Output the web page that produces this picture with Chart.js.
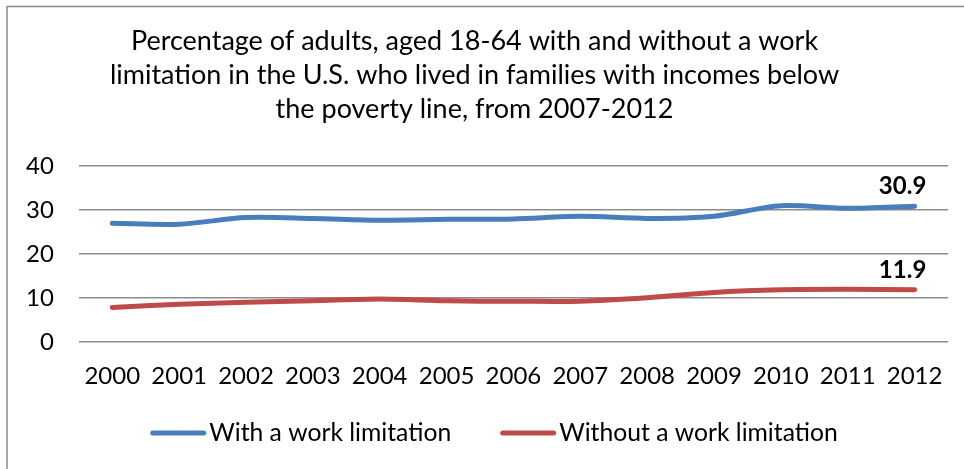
<!DOCTYPE html>
<html>
<head>
<meta charset="utf-8">
<script src="https://cdn.jsdelivr.net/npm/chart.js@4/dist/chart.umd.min.js"></script>
<style>
  html, body { margin: 0; padding: 0; background: #fff; }
  #wrap { width: 964px; height: 469px; position: relative; }
</style>
</head>
<body>
<div id="wrap"><canvas id="c" width="964" height="469"></canvas></div>
<script>
const years = ['2000','2001','2002','2003','2004','2005','2006','2007','2008','2009','2010','2011','2012'];
const withLimitation    = [27.0, 26.8, 28.3, 28.1, 27.7, 27.9, 28.0, 28.6, 28.1, 28.6, 31.0, 30.4, 30.9];
const withoutLimitation = [7.9, 8.6, 9.1, 9.4, 9.8, 9.4, 9.3, 9.3, 10.1, 11.3, 11.9, 12.0, 11.9];
const yTicks = [0, 10, 20, 30, 40];
const titleLines = [
  'Percentage of adults, aged 18-64 with and without a work',
  'limitation in the U.S. who lived in families with incomes below',
  'the poverty line, from 2007-2012'
];

const FONT = 'Lato, "Open Sans", sans-serif';
const BLUE = '#4a7ebb';
const RED = '#be4b48';

// Thin frame along the left and top edges of the canvas
const framePlugin = {
  id: 'frame',
  beforeDraw(chart) {
    const ctx = chart.ctx;
    ctx.save();
    ctx.strokeStyle = '#8a8a8a';
    ctx.lineWidth = 1.5;
    ctx.beginPath();
    ctx.moveTo(7, chart.height);
    ctx.lineTo(7, 6.5);
    ctx.lineTo(chart.width, 6.5);
    ctx.stroke();
    ctx.restore();
  }
};

// Bold value label above the final point of each series
const lastValuePlugin = {
  id: 'lastValue',
  afterDatasetsDraw(chart) {
    const ctx = chart.ctx;
    ctx.save();
    ctx.font = 'bold 24px ' + FONT;
    ctx.fillStyle = '#000';
    ctx.textAlign = 'center';
    ctx.textBaseline = 'bottom';
    chart.data.datasets.forEach((ds, i) => {
      const meta = chart.getDatasetMeta(i);
      const last = ds.data.length - 1;
      const pt = meta.data[last];
      ctx.fillText(ds.data[last].toFixed(1), pt.x - 12, pt.y - 8);
    });
    ctx.restore();
  }
};

// Legend row: short thick line swatch followed closely by the series name
const lineLegendPlugin = {
  id: 'lineLegend',
  afterDraw(chart) {
    const ctx = chart.ctx;
    const swatch = 56, gapText = 3, gapItem = 49;
    ctx.save();
    ctx.font = '24.7px ' + FONT;
    const items = chart.data.datasets.map(ds => ({
      text: ds.label, color: ds.borderColor, w: ctx.measureText(ds.label).width
    }));
    let total = items.reduce((s, it) => s + swatch + gapText + it.w, 0) + gapItem * (items.length - 1);
    let x = 494 - total / 2;
    const y = 433;
    ctx.textBaseline = 'middle';
    ctx.textAlign = 'left';
    items.forEach(it => {
      ctx.strokeStyle = it.color;
      ctx.lineWidth = 5;
      ctx.lineCap = 'round';
      ctx.beginPath();
      ctx.moveTo(x + 2.5, y);
      ctx.lineTo(x + swatch - 2.5, y);
      ctx.stroke();
      ctx.fillStyle = '#000';
      ctx.fillText(it.text, x + swatch + gapText, y);
      x += swatch + gapText + it.w + gapItem;
    });
    ctx.restore();
  }
};

new Chart(document.getElementById('c'), {
  type: 'line',
  data: {
    labels: years,
    datasets: [
      {
        label: 'With a work limitation',
        data: withLimitation,
        borderColor: BLUE,
        backgroundColor: BLUE,
        borderWidth: 5,
        tension: 0.3,
        pointRadius: 0,
        borderCapStyle: 'round',
        fill: false
      },
      {
        label: 'Without a work limitation',
        data: withoutLimitation,
        borderColor: RED,
        backgroundColor: RED,
        borderWidth: 5,
        tension: 0.3,
        pointRadius: 0,
        borderCapStyle: 'round',
        fill: false
      }
    ]
  },
  options: {
    responsive: false,
    animation: false,
    layout: { padding: { left: 1, right: 16, top: 0, bottom: 58 } },
    plugins: {
      title: {
        display: true,
        text: titleLines,
        color: '#000',
        font: { family: FONT, size: 27, weight: 'normal', lineHeight: 1.26 },
        padding: { top: 24, bottom: 40 }
      },
      legend: { display: false },
      tooltip: { enabled: false }
    },
    scales: {
      x: {
        offset: true,
        grid: { display: false, drawTicks: false },
        border: { display: false },
        ticks: { color: '#000', font: { family: FONT, size: 24 }, padding: 20, maxRotation: 0, autoSkip: false }
      },
      y: {
        min: 0,
        max: 40,
        afterBuildTicks(axis) { axis.ticks = yTicks.map(v => ({ value: v })); },
        grid: { color: '#8c8c8c', lineWidth: 1.5, drawTicks: false },
        border: { display: false },
        ticks: { color: '#000', font: { family: FONT, size: 24 }, padding: 25 }
      }
    }
  },
  plugins: [framePlugin, lastValuePlugin, lineLegendPlugin]
});
</script>
</body>
</html>
